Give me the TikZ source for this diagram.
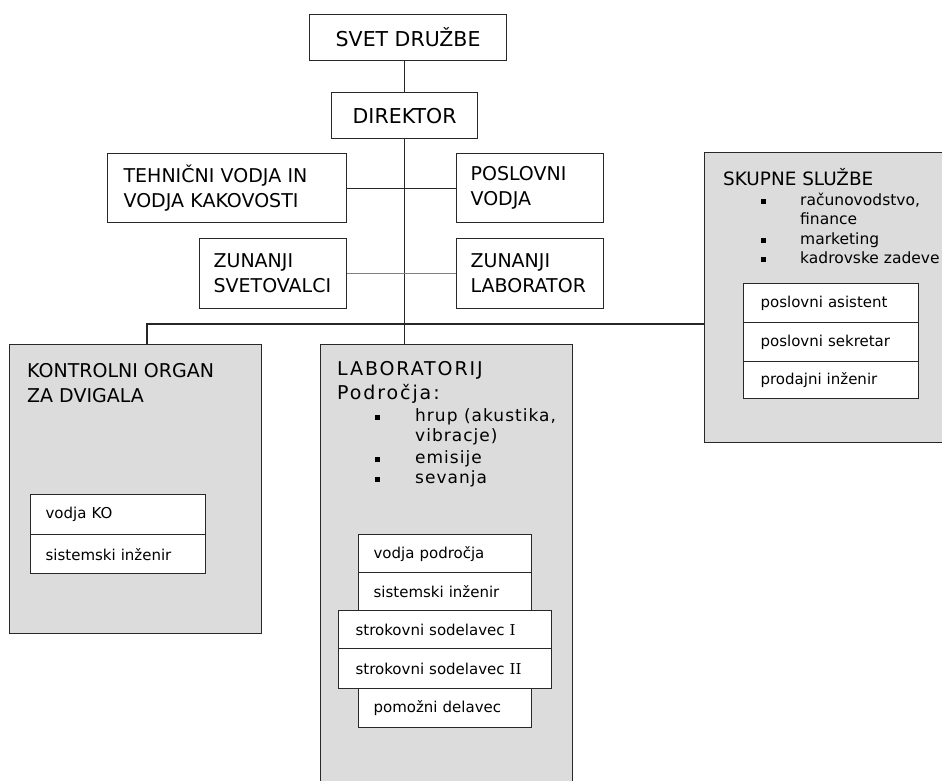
\documentclass[tikz,border=0pt]{standalone}
\usepackage{fontspec}
\setmainfont{DejaVu Sans}
\newfontfamily\serifI{DejaVu Serif}
\definecolor{grayfill}{RGB}{220,220,220}
\definecolor{edge}{RGB}{40,40,40}
\begin{document}
\begin{tikzpicture}[x=1pt,y=-1pt,
  box/.style={draw=edge, line width=1.2pt, fill=white, inner ysep=0pt, anchor=north west},
  greybox/.style={draw=edge, line width=1.3pt, fill=grayfill, anchor=north west, inner sep=0pt},
  conn/.style={line width=1.2pt, black!85},
  thinconn/.style={line width=0.8pt, black!50},
  big/.style={font=\fontsize{19}{25}\selectfont},
  bigger/.style={font=\fontsize{20.5}{25}\selectfont},
  small/.style={font=\fontsize{15}{19}\selectfont},
  listtxt/.style={font=\fontsize{15.5}{19}\selectfont, anchor=base west, inner sep=0pt},
  labtxt/.style={font=\fontsize{17}{21}\selectfont\addfontfeature{LetterSpace=6}, anchor=base west, inner sep=0pt},
  title/.style={anchor=base west, inner sep=0pt},
  bul/.style={fill=black, minimum size=5pt, inner sep=0pt},
  row/.style={box, small, align=left, inner xsep=15pt}
]
\useasboundingbox (0,0) rectangle (942,780);
\clip (0,0) rectangle (942,780);

% top boxes
\node[box, bigger, minimum width=197pt, minimum height=46pt] (svet) at (309,14) {SVET DRUŽBE};
\node[box, bigger, minimum width=146pt, minimum height=46pt] (dir) at (331,92) {DIREKTOR};
\node[box, big, minimum height=69pt, inner xsep=16pt, text width=207pt, align=left] (teh) at (107,153) {TEHNIČNI VODJA IN\\VODJA KAKOVOSTI};
\node[box, big, minimum height=69pt, inner xsep=14pt, text width=119pt, align=left] (pos) at (456,153) {POSLOVNI\\VODJA};
\node[box, big, minimum height=70pt, inner xsep=14pt, text width=119pt, align=left] (zsv) at (199,238) {ZUNANJI\\SVETOVALCI};
\node[box, big, minimum height=70pt, inner xsep=14pt, text width=119pt, align=left] (zlab) at (456,238) {ZUNANJI\\LABORATOR};

% grey boxes
\node[greybox, minimum width=252pt, minimum height=289pt] (ko) at (9,344) {};
\node[greybox, minimum width=252pt, minimum height=500pt] (lab) at (320,344) {};
\node[greybox, minimum width=260pt, minimum height=290pt] (sk) at (704,152) {};

% connectors
\coordinate (busL) at (147,324);
\draw[conn] (dir.north) -- (dir.north |- svet.south);
\draw[conn] (dir.south) -- (dir.south |- lab.north);
\draw[conn] (teh.east) -- (pos.west);
\draw[thinconn] (zsv.east) -- (zlab.west);
\draw[conn] (busL |- ko.north) -- (busL) -- (busL -| sk.west);

% KONTROLNI ORGAN
\node[title, big] (kot1) at (27,377) {KONTROLNI ORGAN};
\node[title, big] (kot2) at (27,402) {ZA DVIGALA};
\node[row, minimum height=40pt, text width=145pt] (ko1) at (30,494) {vodja KO};
\node[row, minimum height=39pt, text width=145pt] (ko2) at (30,534) {sistemski inženir};

% SKUPNE SLUZBE
\node[title, font=\fontsize{18.4}{22}\selectfont] (skt) at (723,185) {SKUPNE SLUŽBE};
\node[bul] (skb1) at (763,201) {};
\node[listtxt] (skl1) at (800,205) {računovodstvo,};
\node[listtxt] (skl2) at (800,224) {finance};
\node[bul] (skb2) at (763,240) {};
\node[listtxt] (skl3) at (800,244) {marketing};
\node[bul] (skb3) at (763,259) {};
\node[listtxt] (skl4) at (800,263) {kadrovske zadeve};
\node[row, inner xsep=17pt, minimum height=39pt, text width=141pt] (sk1) at (743,283) {poslovni asistent};
\node[row, inner xsep=17pt, minimum height=39pt, text width=141pt] (sk2) at (743,322) {poslovni sekretar};
\node[row, inner xsep=17pt, minimum height=37pt, text width=141pt] (sk3) at (743,361) {prodajni inženir};

% LABORATORIJ
\node[title, font=\fontsize{19}{24}\selectfont\addfontfeature{LetterSpace=10}] (labt1) at (337,375) {LABORATORIJ};
\node[title, font=\fontsize{19}{24}\selectfont\addfontfeature{LetterSpace=10}] (labt2) at (337,399) {Področja:};
\node[bul] (lb1) at (377,417) {};
\node[labtxt] (ll1) at (415,421) {hrup (akustika,};
\node[labtxt] (ll2) at (415,441) {vibracje)};
\node[bul] (lb2) at (377,459) {};
\node[labtxt] (ll3) at (415,463) {emisije};
\node[bul] (lb3) at (377,479) {};
\node[labtxt] (ll4) at (415,483) {sevanja};
\node[row, minimum height=38pt, text width=143pt] (lr1) at (358,534) {vodja področja};
\node[row, minimum height=38pt, text width=143pt] (lr2) at (358,572) {sistemski inženir};
\node[row, minimum height=39pt, text width=143pt] (lr5) at (358,688) {pomožni delavec};
\node[row, inner xsep=17pt, minimum height=38pt, text width=179pt] (lr3) at (338,610) {strokovni sodelavec {\serifI I}};
\node[row, inner xsep=17pt, minimum height=40pt, text width=179pt] (lr4) at (338,648) {strokovni sodelavec {\serifI II}};
\end{tikzpicture}
\end{document}
